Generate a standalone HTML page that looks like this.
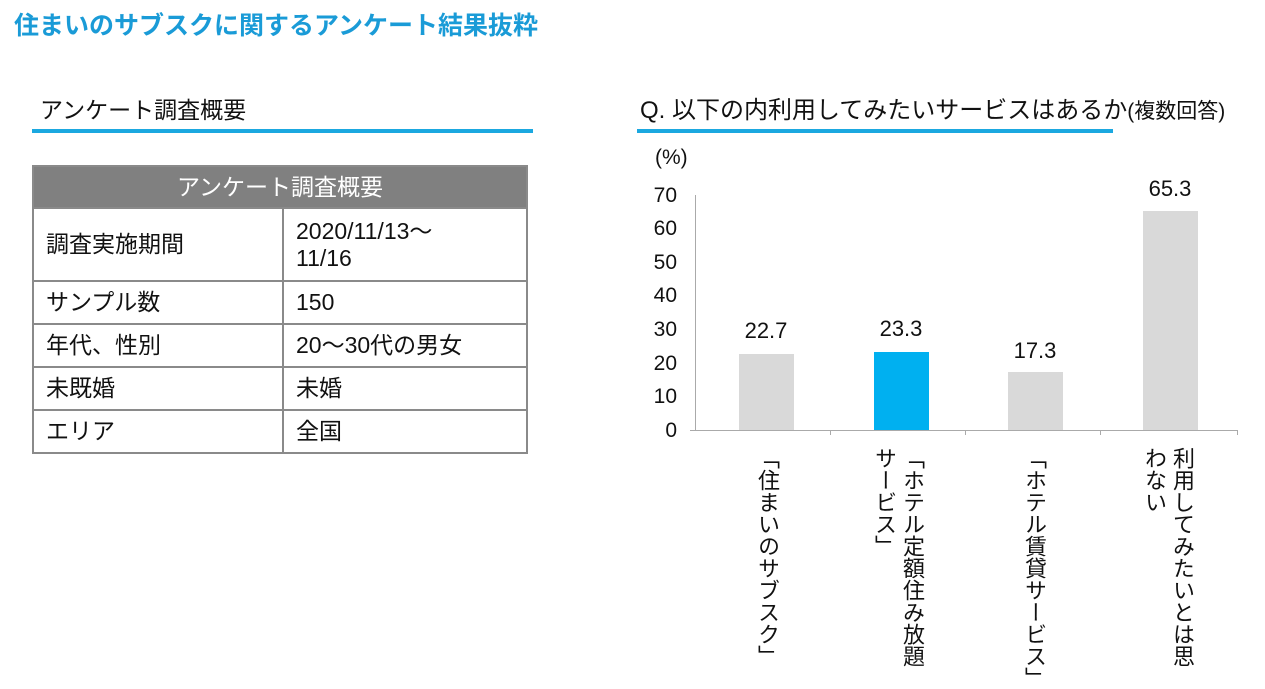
<!DOCTYPE html>
<html><head><meta charset="utf-8"><style>
body{margin:0;width:1265px;height:683px;background:#fff;position:relative;overflow:hidden;font-family:"Liberation Sans","Noto Sans CJK JP",sans-serif;color:#111}
.a{position:absolute;white-space:nowrap}
table{position:absolute;left:32px;top:165px;border-collapse:collapse;font-size:23px}
td{border:2px solid #8a8a8a;padding:0 12px;height:41px;vertical-align:middle;line-height:27px}
.v{position:absolute;writing-mode:vertical-rl;font-size:22px;line-height:28px;top:447px;letter-spacing:0px}
.yl{position:absolute;font-size:21px;width:30px;text-align:right;left:647px}
.bar{position:absolute;width:55px;background:#d9d9d9}
.val{position:absolute;font-size:22px;width:80px;text-align:center}
</style></head><body>
<div class="a" style="left:14px;top:6px;font-size:25px;font-weight:bold;color:#1a9bd7">住まいのサブスクに関するアンケート結果抜粋</div>
<div class="a" style="left:40px;top:91px;font-size:23px">アンケート調査概要</div>
<div class="a" style="left:32px;top:129px;width:501px;height:4px;background:#1ba8e0"></div>
<div class="a" style="left:640px;top:90px;font-size:24px">Q. 以下の内利用してみたいサービスはあるか<span style="font-size:21px">(複数回答)</span></div>
<div class="a" style="left:637px;top:129px;width:476px;height:4px;background:#1ba8e0"></div>
<table>
<tr><td colspan="2" style="background:#808080;color:#fff;text-align:center;height:40px">アンケート調査概要</td></tr>
<tr><td style="width:224px;height:71px">調査実施期間</td><td style="width:218px">2020/11/13～<br>11/16</td></tr>
<tr><td>サンプル数</td><td>150</td></tr>
<tr><td>年代、性別</td><td>20～30代の男女</td></tr>
<tr><td>未既婚</td><td>未婚</td></tr>
<tr><td>エリア</td><td>全国</td></tr>
</table>
<div class="a" style="left:655px;top:146px;font-size:21px">(%)</div>
<div class="yl" style="top:184px">70</div><div class="yl" style="top:217px">60</div><div class="yl" style="top:251px">50</div><div class="yl" style="top:284px">40</div><div class="yl" style="top:318px">30</div><div class="yl" style="top:352px">20</div><div class="yl" style="top:385px">10</div><div class="yl" style="top:419px">0</div>
<div class="a" style="left:695px;top:195px;width:1px;height:235px;background:#aaa"></div>
<div class="a" style="left:690px;top:430px;width:548px;height:1px;background:#aaa"></div>
<div class="a" style="left:830px;top:430px;width:1px;height:5px;background:#aaa"></div>
<div class="a" style="left:965px;top:430px;width:1px;height:5px;background:#aaa"></div>
<div class="a" style="left:1100px;top:430px;width:1px;height:5px;background:#aaa"></div>
<div class="a" style="left:1237px;top:430px;width:1px;height:5px;background:#aaa"></div>
<div class="bar" style="left:739px;top:354px;height:76px"></div>
<div class="bar" style="left:874px;top:352px;height:78px;background:#00b0f0"></div>
<div class="bar" style="left:1008px;top:372px;height:58px"></div>
<div class="bar" style="left:1143px;top:211px;height:219px"></div>
<div class="val" style="left:726px;top:318px">22.7</div>
<div class="val" style="left:861px;top:316px">23.3</div>
<div class="val" style="left:995px;top:338px">17.3</div>
<div class="val" style="left:1130px;top:176px">65.3</div>
<div class="v" style="left:753px">「住まいのサブスク」</div>
<div class="v" style="left:870px">「ホテル定額住み放題<br>サービス」</div>
<div class="v" style="left:1020px">「ホテル賃貸サービス」</div>
<div class="v" style="left:1140px">利用してみたいとは思<br>わない</div>
</body></html>
